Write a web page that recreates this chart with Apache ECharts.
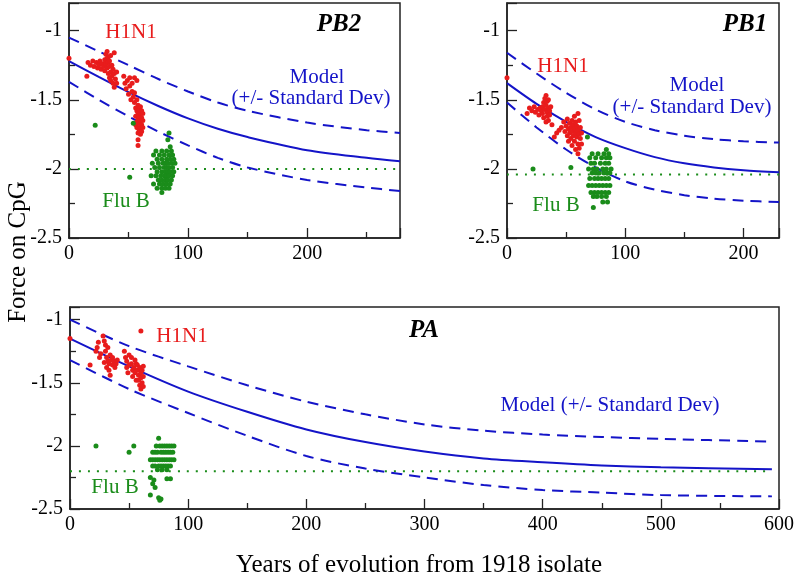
<!DOCTYPE html>
<html><head><meta charset="utf-8">
<script src="https://cdn.jsdelivr.net/npm/echarts@6/dist/echarts.min.js"></script>
<style>html,body{margin:0;padding:0;background:#fff}#c{width:799px;height:582px}</style>
</head><body><div id="c"></div>
<script>
// ---------- PB2 panel ----------
const pb2Center = [[0,-1.22],[25,-1.335],[50,-1.445],[75,-1.545],[100,-1.635],[125,-1.71],[150,-1.77],[200,-1.865],[250,-1.92],[278,-1.945]];
const pb2Upper  = [[0,-1.05],[25,-1.15],[50,-1.25],[75,-1.35],[100,-1.44],[125,-1.52],[150,-1.58],[200,-1.665],[250,-1.72],[278,-1.74]];
const pb2Lower  = [[0,-1.37],[25,-1.50],[50,-1.62],[75,-1.73],[100,-1.83],[125,-1.92],[150,-1.99],[200,-2.08],[250,-2.135],[278,-2.16]];
const pb2FluLine = [[0,-2.0],[278,-2.0]];
const pb2H1N1 = [[0,-1.20],[15,-1.33],[16,-1.23],[18,-1.25],[20,-1.22],[21,-1.26],[23,-1.23],[24,-1.27],[25,-1.25],[26,-1.22],[27,-1.28],[28,-1.24],[29,-1.26],[30,-1.21],[30,-1.29],[31,-1.17],[31,-1.24],[32,-1.15],[32,-1.20],[32,-1.27],[33,-1.19],[33,-1.23],[33,-1.31],[34,-1.22],[34,-1.26],[34,-1.34],[35,-1.18],[35,-1.30],[35,-1.36],[36,-1.25],[36,-1.33],[37,-1.28],[37,-1.38],[38,-1.16],[38,-1.31],[38,-1.41],[39,-1.35],[40,-1.30],[40,-1.38],[46,-1.33],[47,-1.38],[48,-1.42],[49,-1.36],[50,-1.46],[51,-1.34],[51,-1.40],[52,-1.50],[53,-1.44],[53,-1.38],[54,-1.48],[55,-1.34],[55,-1.52],[55,-1.45],[56,-1.56],[56,-1.62],[56,-1.68],[57,-1.50],[57,-1.58],[57,-1.66],[57,-1.70],[57,-1.36],[58,-1.54],[58,-1.60],[58,-1.64],[58,-1.70],[58,-1.74],[58,-1.79],[58,-1.83],[59,-1.57],[59,-1.62],[59,-1.67],[59,-1.72],[60,-1.55],[60,-1.60],[60,-1.65],[60,-1.70],[60,-1.75],[61,-1.58],[61,-1.63],[61,-1.68],[61,-1.73],[62,-1.60],[62,-1.65],[62,-1.70]];
const pb2FluB = [[22,-1.685],[51,-2.06],[54,-1.67],[84,-1.74],[83,-1.79],[85,-1.84],[73,-1.87],[78,-1.87],[82,-1.87],[86,-1.87],[71,-1.90],[76,-1.90],[80,-1.90],[84,-1.90],[87,-1.90],[74,-1.93],[78,-1.93],[82,-1.93],[85,-1.93],[88,-1.93],[70,-1.96],[75,-1.96],[79,-1.96],[81,-1.96],[83,-1.96],[86,-1.96],[89,-1.96],[72,-1.99],[76,-1.99],[80,-1.99],[82,-1.99],[84,-1.99],[87,-1.99],[74,-2.02],[78,-2.02],[81,-2.02],[83,-2.02],[85,-2.02],[88,-2.02],[69,-2.05],[73,-2.05],[77,-2.05],[80,-2.05],[82,-2.05],[84,-2.05],[87,-2.05],[75,-2.08],[78,-2.08],[81,-2.08],[83,-2.08],[86,-2.08],[71,-2.11],[76,-2.11],[79,-2.11],[82,-2.11],[85,-2.11],[74,-2.14],[78,-2.14],[81,-2.14],[84,-2.14],[78,-2.17]];

// ---------- PB1 panel ----------
const pb1Center = [[0,-1.38],[25,-1.53],[50,-1.66],[75,-1.77],[100,-1.85],[125,-1.915],[150,-1.96],[175,-1.99],[200,-2.01],[230,-2.025]];
const pb1Upper  = [[0,-1.16],[25,-1.31],[50,-1.45],[75,-1.57],[100,-1.66],[125,-1.72],[150,-1.76],[175,-1.785],[200,-1.80],[230,-1.81]];
const pb1Lower  = [[0,-1.52],[25,-1.70],[50,-1.86],[75,-1.99],[100,-2.09],[125,-2.15],[150,-2.19],[175,-2.215],[200,-2.23],[230,-2.24]];
const pb1FluLine = [[0,-2.04],[230,-2.04]];
const pb1H1N1 = [[0,-1.34],[17,-1.60],[19,-1.56],[21,-1.58],[23,-1.55],[24,-1.59],[26,-1.57],[27,-1.61],[28,-1.56],[29,-1.58],[30,-1.55],[30,-1.60],[31,-1.52],[31,-1.63],[32,-1.49],[32,-1.57],[33,-1.47],[33,-1.54],[33,-1.66],[34,-1.51],[34,-1.59],[34,-1.62],[35,-1.50],[35,-1.56],[35,-1.65],[36,-1.58],[36,-1.61],[37,-1.55],[38,-1.68],[40,-1.77],[42,-1.74],[44,-1.72],[46,-1.70],[48,-1.66],[49,-1.73],[50,-1.69],[51,-1.64],[51,-1.76],[52,-1.71],[52,-1.80],[53,-1.67],[53,-1.74],[54,-1.70],[54,-1.78],[55,-1.65],[55,-1.73],[55,-1.83],[56,-1.68],[56,-1.76],[57,-1.62],[57,-1.71],[57,-1.80],[58,-1.66],[58,-1.74],[58,-1.86],[59,-1.69],[59,-1.77],[60,-1.60],[60,-1.72],[60,-1.82],[60,-1.89],[61,-1.65],[61,-1.75],[61,-1.85],[62,-1.70],[62,-1.78],[63,-1.74],[63,-1.82]];
const pb1FluB = [[22,-2.00],[54,-1.99],[68,-1.77],[73,-2.28],[84,-1.86],[72,-1.89],[77,-1.89],[82,-1.89],[86,-1.89],[70,-1.92],[75,-1.92],[80,-1.92],[84,-1.92],[87,-1.92],[71,-1.96],[74,-1.96],[79,-1.96],[83,-1.96],[86,-1.96],[69,-2.00],[73,-2.00],[76,-2.00],[81,-2.00],[84,-2.00],[88,-2.00],[72,-2.03],[75,-2.03],[78,-2.03],[82,-2.03],[85,-2.03],[87,-2.03],[70,-2.07],[74,-2.07],[77,-2.07],[80,-2.07],[83,-2.07],[86,-2.07],[69,-2.12],[72,-2.12],[75,-2.12],[78,-2.12],[81,-2.12],[84,-2.12],[87,-2.12],[71,-2.17],[74,-2.17],[77,-2.17],[80,-2.17],[83,-2.17],[86,-2.17],[73,-2.20],[76,-2.20],[80,-2.20],[84,-2.20],[81,-2.24],[85,-2.24]];

// ---------- PA panel ----------
const paCenter = [[0,-1.15],[50,-1.37],[100,-1.57],[150,-1.73],[200,-1.87],[250,-1.97],[300,-2.045],[350,-2.10],[400,-2.13],[450,-2.155],[500,-2.17],[594,-2.185]];
const paUpper  = [[0,-1.00],[50,-1.21],[100,-1.37],[150,-1.52],[200,-1.65],[250,-1.75],[300,-1.83],[350,-1.88],[400,-1.91],[450,-1.93],[500,-1.945],[594,-1.966]];
const paLower  = [[0,-1.32],[50,-1.55],[100,-1.74],[150,-1.92],[200,-2.08],[250,-2.18],[300,-2.25],[350,-2.31],[400,-2.35],[450,-2.37],[500,-2.39],[594,-2.40]];
const paFluLine = [[0,-2.2],[594,-2.2]];
const paH1N1 = [[0,-1.15],[17,-1.36],[60,-1.09],[22,-1.25],[23,-1.22],[24,-1.18],[25,-1.30],[26,-1.27],[28,-1.13],[29,-1.17],[29,-1.34],[30,-1.20],[30,-1.25],[31,-1.30],[31,-1.38],[32,-1.33],[32,-1.22],[33,-1.35],[33,-1.40],[34,-1.44],[34,-1.28],[35,-1.32],[36,-1.30],[36,-1.36],[37,-1.33],[38,-1.38],[39,-1.35],[40,-1.32],[46,-1.25],[47,-1.30],[48,-1.33],[48,-1.38],[49,-1.42],[50,-1.36],[50,-1.28],[52,-1.30],[52,-1.35],[53,-1.40],[53,-1.45],[54,-1.38],[55,-1.32],[55,-1.42],[56,-1.48],[56,-1.35],[57,-1.36],[57,-1.40],[58,-1.44],[58,-1.48],[59,-1.52],[59,-1.38],[60,-1.42],[60,-1.46],[60,-1.55],[61,-1.50],[61,-1.40],[62,-1.45],[62,-1.53],[62,-1.37]];
const paFluB = [[22,-2.00],[50,-2.05],[54,-2.00],[75,-1.94],[73,-2.00],[76,-2.00],[78,-2.00],[80,-2.00],[82,-2.00],[84,-2.00],[86,-2.00],[88,-2.00],[70,-2.05],[72,-2.05],[74,-2.05],[77,-2.05],[79,-2.05],[81,-2.05],[83,-2.05],[85,-2.05],[87,-2.05],[68,-2.11],[70,-2.11],[72,-2.11],[74,-2.11],[76,-2.11],[78,-2.11],[80,-2.11],[82,-2.11],[84,-2.11],[86,-2.11],[88,-2.11],[70,-2.16],[72,-2.16],[75,-2.16],[77,-2.16],[79,-2.16],[81,-2.16],[83,-2.16],[85,-2.16],[74,-2.19],[78,-2.19],[82,-2.19],[68,-2.25],[71,-2.27],[70,-2.30],[72,-2.33],[68,-2.39],[75,-2.41],[76,-2.43],[77,-2.42],[82,-2.26],[85,-2.26]];

// ---------- ticks / ranges ----------
const yRange = {pb2:[-2.5,-0.8], pb1:[-2.5,-0.8], pa:[-2.5,-0.9]};
const xRange = {pb2:[0,278], pb1:[0,230], pa:[0,600]};

const RED = '#e81c1c', GREEN = '#1a8c1a', BLUE = '#1414c8', INK = '#222';
const FONT = '"Liberation Serif","Times New Roman",serif';

function xAx(gi, r) {
  return {type:'value', gridIndex:gi, min:r[0], max:r[1], interval:100,
    axisLine:{show:true,onZero:false,lineStyle:{color:INK,width:1.5}},
    axisTick:{show:true,inside:true,length:10,lineStyle:{color:INK,width:1.3}},
    minorTick:{show:true,splitNumber:2,length:6,lineStyle:{color:INK,width:1.3}},
    splitLine:{show:false}, minorSplitLine:{show:false},
    axisLabel:{color:'#000',fontFamily:FONT,fontSize:20,margin:6,showMaxLabel:r[1]%100===0}};
}
function yAx(gi, r) {
  return {type:'value', gridIndex:gi, min:r[0], max:r[1], interval:0.5,
    axisLine:{show:true,onZero:false,lineStyle:{color:INK,width:1.5}},
    axisTick:{show:true,inside:true,length:10,lineStyle:{color:INK,width:1.3}},
    minorTick:{show:true,splitNumber:2,length:6,lineStyle:{color:INK,width:1.3}},
    splitLine:{show:false}, minorSplitLine:{show:false},
    axisLabel:{color:'#000',fontFamily:FONT,fontSize:20,margin:7,showMaxLabel:false}};
}
function line(gi, data, type, color) {
  return {type:'line', xAxisIndex:gi, yAxisIndex:gi, data:data, smooth:0.3, showSymbol:false, silent:true,
    lineStyle:{color:color, width:2, type: type==='dashed'?[11,7]:(type==='dotted'?[2,7]:'solid')}, z:3};
}
function scat(gi, data, color) {
  return {type:'scatter', xAxisIndex:gi, yAxisIndex:gi, data:data, symbolSize:5, itemStyle:{color:color,opacity:1}, z:4};
}
function txt(x, y, s, color, size, extra) {
  return {type:'text', x:x, y:y, style:{text:s, fill:color, font:(extra||'')+' '+size+'px '+FONT, align:'center', verticalAlign:'middle'}, z:10};
}

const chart = echarts.init(document.getElementById('c'), null, {renderer:'canvas'});
chart.setOption({
  animation:false,
  backgroundColor:'#fff',
  grid:[
    {left:69, top:3, width:331, height:235, show:true, borderColor:INK, borderWidth:1.5, backgroundColor:'transparent'},
    {left:507, top:3, width:272, height:235, show:true, borderColor:INK, borderWidth:1.5, backgroundColor:'transparent'},
    {left:70, top:307, width:709, height:202, show:true, borderColor:INK, borderWidth:1.5, backgroundColor:'transparent'}
  ],
  xAxis:[xAx(0,xRange.pb2), xAx(1,xRange.pb1), xAx(2,xRange.pa)],
  yAxis:[yAx(0,yRange.pb2), yAx(1,yRange.pb1), yAx(2,yRange.pa)],
  series:[
    line(0,pb2FluLine,'dotted',GREEN), line(0,pb2Upper,'dashed',BLUE), line(0,pb2Center,'solid',BLUE), line(0,pb2Lower,'dashed',BLUE),
    scat(0,pb2H1N1,RED), scat(0,pb2FluB,GREEN),
    line(1,pb1FluLine,'dotted',GREEN), line(1,pb1Upper,'dashed',BLUE), line(1,pb1Center,'solid',BLUE), line(1,pb1Lower,'dashed',BLUE),
    scat(1,pb1H1N1,RED), scat(1,pb1FluB,GREEN),
    line(2,paFluLine,'dotted',GREEN), line(2,paUpper,'dashed',BLUE), line(2,paCenter,'solid',BLUE), line(2,paLower,'dashed',BLUE),
    scat(2,paH1N1,RED), scat(2,paFluB,GREEN)
  ],
  graphic:[
    txt(131,32,'H1N1',RED,21), txt(317,77,'Model',BLUE,21), txt(311,98,'(+/- Standard Dev)',BLUE,21), txt(126,201,'Flu B',GREEN,21),
    txt(339,25,'PB2','#000',25,'italic bold'),
    txt(563,66,'H1N1',RED,21), txt(697,85,'Model',BLUE,21), txt(692,107,'(+/- Standard Dev)',BLUE,21), txt(556,205,'Flu B',GREEN,21),
    txt(745,25,'PB1','#000',25,'italic bold'),
    txt(182,336,'H1N1',RED,21), txt(424,331,'PA','#000',25,'italic bold'), txt(610,405,'Model (+/- Standard Dev)',BLUE,21), txt(115,487,'Flu B',GREEN,21),
    {type:'text', x:18, y:252, rotation:Math.PI/2, style:{text:'Force on CpG', fill:'#000', font:'25px '+FONT, align:'center', verticalAlign:'middle'}},
    txt(419,565,'Years of evolution from 1918 isolate','#000',25)
  ]
});
</script></body></html>
